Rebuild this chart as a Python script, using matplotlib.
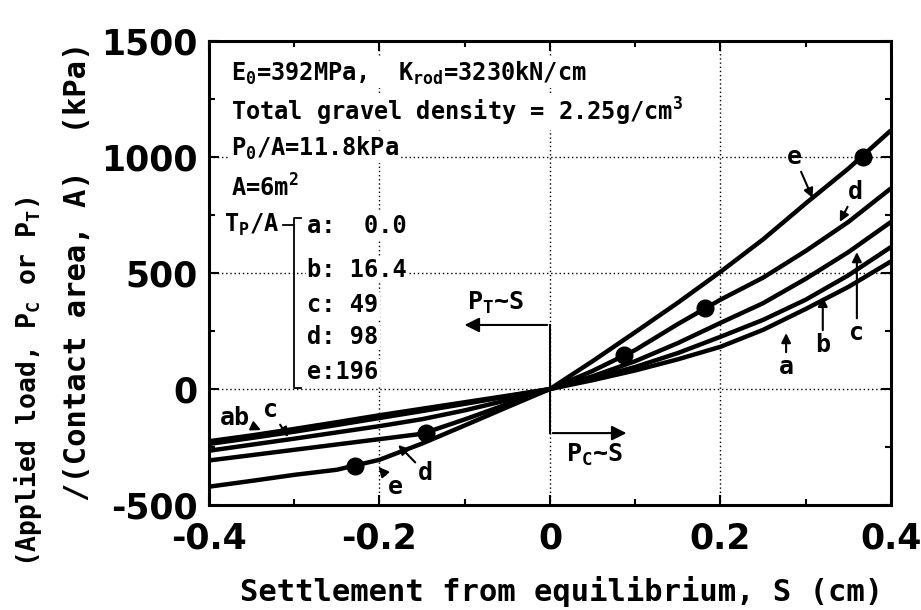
import matplotlib.pyplot as plt
from matplotlib.ticker import MultipleLocator

plt.rcParams['font.family'] = ['DejaVu Sans Mono', 'DejaVu Sans']
plt.rcParams['mathtext.fontset'] = 'custom'
plt.rcParams['mathtext.rm'] = 'DejaVu Sans Mono:bold'
plt.rcParams['mathtext.it'] = 'DejaVu Sans Mono:bold'
plt.rcParams['mathtext.bf'] = 'DejaVu Sans Mono:bold'

# settlement S (cm)
S = [-0.4, -0.35, -0.3, -0.25, -0.2, -0.15, -0.1, -0.05, 0,
     0.05, 0.1, 0.15, 0.2, 0.25, 0.3, 0.35, 0.4]

# applied load / contact area (kPa), one list per T_P/A case
load_a = [-225, -200, -172, -143, -113, -85, -57, -29, 0,
          38, 80, 128, 182, 255, 345, 440, 550]
load_b = [-237, -211, -184, -155, -125, -95, -64, -32, 0,
          45, 95, 155, 225, 298, 385, 490, 612]
load_c = [-266, -240, -214, -187, -160, -130, -92, -48, 0,
          55, 120, 198, 285, 370, 475, 590, 720]
load_d = [-308, -285, -262, -239, -216, -193, -131, -65, 0,
          78, 168, 280, 385, 480, 595, 720, 865]
load_e = [-421, -396, -370, -348, -305, -235, -157, -78, 0,
          120, 245, 372, 505, 645, 800, 950, 1115]

# black dots on curves d and e
dot_S = [-0.229, -0.146, 0.087, 0.182, 0.367]
dot_P = [-332, -191, 146, 348, 1000]

case_rows = ["a:  0.0", "b: 16.4", "c: 49", "d: 98", "e:196"]
x_ticks = [-0.4, -0.2, 0, 0.2, 0.4]
x_labels = ["-0.4", "-0.2", "0", "0.2", "0.4"]
y_ticks = [-500, 0, 500, 1000, 1500]
y_labels = ["-500", "0", "500", "1000", "1500"]

fig = plt.figure(figsize=(9.21, 6.10), dpi=100)
ax = fig.add_axes([0.2269, 0.1721, 0.7405, 0.7607])
ax.set_xlim(-0.4, 0.4)
ax.set_ylim(-500, 1500)

for v in [-0.2, 0, 0.2]:
    ax.axvline(v, color='k', lw=1, ls=(0, (1, 2)), zorder=0)
for v in [0, 500, 1000]:
    ax.axhline(v, color='k', lw=1, ls=(0, (1, 2)), zorder=0)

for load in [load_a, load_b, load_c, load_d, load_e]:
    ax.plot(S, load, color='k', lw=3.2, solid_capstyle='butt', zorder=3)
ax.plot(dot_S, dot_P, 'o', color='k', ms=12, zorder=4)

ax.set_xticks(x_ticks)
ax.set_xticklabels(x_labels)
ax.set_yticks(y_ticks)
ax.set_yticklabels(y_labels)
ax.xaxis.set_minor_locator(MultipleLocator(0.1))
ax.yaxis.set_minor_locator(MultipleLocator(250))
ax.tick_params(which='both', direction='in', top=True, right=True, width=1.5)
ax.tick_params(which='major', length=7)
ax.tick_params(which='minor', length=4)
ax.tick_params(axis='x', pad=12)
ax.tick_params(axis='y', pad=8)
for lab in ax.get_xticklabels() + ax.get_yticklabels():
    lab.set_family('DejaVu Sans')
    lab.set_fontsize(25)
    lab.set_fontweight('semibold')
for sp in ax.spines.values():
    sp.set_linewidth(2.2)

box = dict(fc='white', ec='none', pad=1)
kw = dict(fontsize=17, fontweight='bold', ha='left', va='center', bbox=box, zorder=5)
ax.text(-0.374, 1362, r"$\mathrm{E_0}$=392MPa,  $\mathrm{K_{rod}}$=3230kN/cm", **kw)
ax.text(-0.374, 1194, r"Total gravel density = 2.25g/$\mathrm{cm^3}$", **kw)
ax.text(-0.374, 1039, r"$\mathrm{P_0}$/A=11.8kPa", **kw)
ax.text(-0.374, 866, r"A=6$\mathrm{m^2}$", **kw)
ax.text(-0.382, 707, r"$\mathrm{T_P}$/A", **kw)
for row, yy in zip(case_rows, [703, 513, 362, 224, 73]):
    ax.text(-0.285, yy, row, **kw)
# bracket
ax.plot([-0.313, -0.300], [707, 707], color='k', lw=1.3, zorder=6)
ax.plot([-0.292, -0.300, -0.300, -0.292], [737, 737, 4, 4], color='k', lw=1.3, zorder=6)

# P_T ~ S and P_C ~ S arrows
ax.plot([0, 0], [276, -190], color='k', lw=1.5, zorder=2)
arr = dict(arrowstyle='-|>', color='k', lw=1.5, mutation_scale=22)
ax.annotate('', xy=(-0.1035, 276), xytext=(0, 276), arrowprops=arr)
ax.annotate('', xy=(0.093, -190), xytext=(0, -190), arrowprops=arr)
ax.text(-0.064, 370, r"$\mathrm{P_T}$~S", fontsize=18, fontweight='bold',
        ha='center', va='center')
ax.text(0.052, -284, r"$\mathrm{P_C}$~S", fontsize=18, fontweight='bold',
        ha='center', va='center')

# curve labels
larr = dict(arrowstyle='-|>', color='k', lw=1.5, mutation_scale=14, shrinkA=0, shrinkB=0)
lkw = dict(fontsize=18, fontweight='bold', ha='center', va='center')
ax.annotate('e', xy=(0.308, 823), xytext=(0.287, 1000), arrowprops=larr, **lkw)
ax.annotate('d', xy=(0.340, 720), xytext=(0.358, 849), arrowprops=larr, **lkw)
ax.annotate('c', xy=(0.360, 590), xytext=(0.360, 241), arrowprops=larr, **lkw)
ax.annotate('b', xy=(0.320, 397), xytext=(0.320, 190), arrowprops=larr, **lkw)
ax.annotate('a', xy=(0.277, 241), xytext=(0.277, 95), arrowprops=larr, **lkw)
ax.annotate('ab', xy=(-0.339, -177), xytext=(-0.370, -125), arrowprops=larr, **lkw)
ax.annotate('c', xy=(-0.307, -207), xytext=(-0.328, -90), arrowprops=larr, **lkw)
ax.annotate('d', xy=(-0.178, -241), xytext=(-0.146, -362), arrowprops=larr, **lkw)
ax.annotate('e', xy=(-0.201, -336), xytext=(-0.181, -422), arrowprops=larr, **lkw)

fig.text(0.61, 0.03, "Settlement from equilibrium, S (cm)", fontsize=22,
         fontweight='bold', ha='center', va='center')
fig.text(0.030, 0.375, r"(Applied load, $\mathrm{P_C}$ or $\mathrm{P_T}$)", fontsize=19,
         fontweight='bold', ha='center', va='center', rotation=90)
fig.text(0.084, 0.556, "/(Contact area, A)  (kPa)", fontsize=22,
         fontweight='bold', ha='center', va='center', rotation=90)

fig.savefig('out.png', dpi=100)
